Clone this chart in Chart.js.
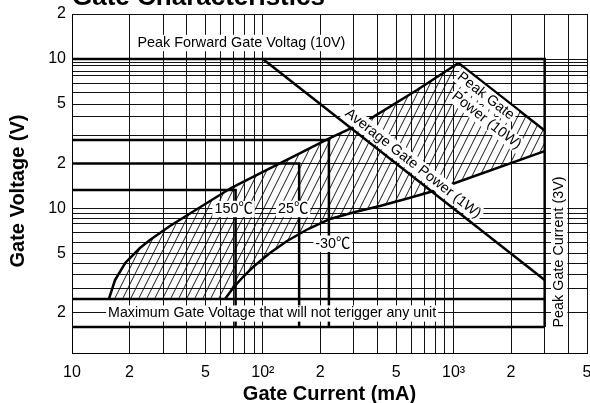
<!DOCTYPE html>
<html>
<head>
<meta charset="utf-8">
<style>
  html, body { margin: 0; padding: 0; background: #fff; }
  canvas { display: block; }
</style>
<script src="https://cdn.jsdelivr.net/npm/chart.js@4.4.1/dist/chart.umd.min.js"></script>
</head>
<body>
<canvas id="c" width="590" height="403" style="width:590px;height:403px"></canvas>
<script>
// Gate characteristics: gate current in mA (x) against gate voltage in V (y), both logarithmic.
const xMin = 10, xMax = 5000;
const yMin = 0.108, yMax = 20;

// grid lines and the tick labels printed on them
const xGrid = [10, 20, 30, 40, 50, 60, 70, 80, 90, 100, 200, 300, 400, 500, 600, 700, 800, 900, 1000, 2000, 3000, 4000, 5000];
const xLabelValues = [10, 20, 50, 100, 200, 500, 1000, 2000, 5000];
const xLabelTexts = ['10', '2', '5', '10²', '2', '5', '10³', '2', '5'];
const yGrid = [20, 10, 9.5, 9, 8.3, 7.7, 6.9, 6, 5, 4.1, 3.1, 2, 1, 0.93, 0.86, 0.79, 0.69, 0.59, 0.5, 0.43, 0.36, 0.29, 0.2, 0.108];
const yLabelValues = [20, 10, 5, 2, 1, 0.5, 0.2];
const yLabelTexts = ['2', '10', '5', '2', '10', '5', '2'];

// ratings
const peakForwardVoltage = [[10, 10], [3000, 10], [3000, 0.161]];   // 10 V ceiling, 3 A side
const averagePower = [[100, 10], [3000, 0.333]];                      // 1 W
const peakPower = [[1060, 9.4], [3000, 3.33]];                        // 10 W
const noTriggerTop = [[10, 0.248], [3000, 0.248]];
const noTriggerBottom = [[10, 0.161], [3000, 0.161]];

// minimum trigger current / voltage per junction temperature
const trigger150 = [[10, 1.33], [72, 1.33], [72, 0.161]];
const trigger25 = [[10, 2], [155, 2], [155, 0.161]];
const triggerMinus30 = [[10, 2.87], [222, 2.87], [222, 0.161]];

// boundaries of the preferred gate drive area
const upperCurve = [[15.6, 0.248], [16.8, 0.332], [19, 0.432], [22.7, 0.544], [25.6, 0.616], [32.6, 0.764],
  [46.9, 1.02], [68.1, 1.37], [105, 1.81], [157, 2.35], [220, 2.92], [293, 3.46], [378, 4.09], [643, 6.2],
  [1060, 9.4]];
const lowerCurve = [[63.4, 0.248], [69.8, 0.294], [78.7, 0.348], [88.9, 0.406], [109, 0.504], [134, 0.606],
  [172.6, 0.729], [225, 0.851], [304, 0.948], [411, 1.04], [591, 1.18], [819, 1.33], [1017, 1.48], [3000, 2.42]];

const FONT = '"Liberation Sans", Arial, "Noto Sans CJK JP", sans-serif';
const LABEL_SIZE = 14.4;

const pts = arr => arr.map(([x, y]) => ({ x, y }));

function hatch() {
  const c = document.createElement('canvas');
  c.width = 8; c.height = 16;
  const g = c.getContext('2d');
  g.strokeStyle = '#000';
  g.lineWidth = 0.9;
  g.beginPath();
  for (const dx of [-8, 0, 8]) { g.moveTo(dx, 16); g.lineTo(dx + 8, 0); }
  g.stroke();
  return g.createPattern(c, 'repeat');
}

const area = pts(upperCurve).concat(pts(lowerCurve).reverse());
area.splice(upperCurve.length, 0, { x: 3000, y: 3.33 });

const thick = (data) => ({ data: pts(data), borderColor: '#000', borderWidth: 2.5, pointRadius: 0, fill: false, order: 0 });

const datasets = [
  { data: area, borderWidth: 0, borderColor: 'rgba(0,0,0,0)', pointRadius: 0, fill: 'shape', backgroundColor: hatch(), order: 5 },
  thick(peakForwardVoltage),
  thick(averagePower),
  thick(peakPower),
  thick(noTriggerTop),
  thick(noTriggerBottom),
  thick(trigger150),
  thick(trigger25),
  thick(triggerMinus30),
  thick(upperCurve),
  thick(lowerCurve)
];

function labelFor(v, values, texts) {
  const i = values.findIndex(t => Math.abs(t - v) < 1e-9);
  return i < 0 ? '' : texts[i];
}

function boxedText(ctx, text, x, y, angle, size, align) {
  ctx.save();
  ctx.font = size + 'px ' + FONT;
  const w = ctx.measureText(text).width;
  const cx = align === 'left' ? x + w / 2 : x;
  ctx.translate(cx, y);
  ctx.rotate(angle);
  ctx.fillStyle = '#fff';
  ctx.fillRect(-w / 2 - 2, -size / 2 - 1, w + 4, size + 2);
  ctx.fillStyle = '#000';
  ctx.textAlign = 'center';
  ctx.textBaseline = 'middle';
  ctx.fillText(text, 0, 0);
  ctx.restore();
}

// point at fraction t of p0 -> p1, moved off px along the normal that points up and to the right
function along(p0, p1, t, off) {
  const dx = p1.x - p0.x, dy = p1.y - p0.y, L = Math.hypot(dx, dy);
  return { x: p0.x + dx * t + off * dy / L, y: p0.y + dy * t - off * dx / L, a: Math.atan2(dy, dx) };
}

const decor = {
  id: 'decor',
  afterDatasetsDraw(chart) {
    const ctx = chart.ctx;
    const X = v => chart.scales.x.getPixelForValue(v);
    const Y = v => chart.scales.y.getPixelForValue(v);
    const P = ([x, y]) => ({ x: X(x), y: Y(y) });
    const s = LABEL_SIZE;

    boxedText(ctx, 'Peak Forward Gate Voltag (10V)', X(20) + 8, Y(10) - 16, 0, s, 'left');
    boxedText(ctx, 'Maximum Gate Voltage that will not terigger any unit', X(15) + 2.5, Y(0.2) + 0.5, 0, 14.2, 'left');

    boxedText(ctx, '150℃', X(72) - 2, Y(1) + 0.5, 0, s);
    boxedText(ctx, '25℃', X(155) - 6, Y(1) + 0.5, 0, s);
    boxedText(ctx, '-30℃', X(222) + 4, Y(0.59) + 1, 0, s);

    const avg = along(P(averagePower[0]), P(averagePower[1]), 0.51, 10.4);
    boxedText(ctx, 'Average Gate Power (1W)', avg.x, avg.y, avg.a, s);

    const pk1 = along(P(peakPower[0]), P(peakPower[1]), 0.383, -9.3);
    boxedText(ctx, 'Peak Gate', pk1.x, pk1.y, pk1.a, s);
    const pk2 = along(P(peakPower[0]), P(peakPower[1]), 0.525, -28);
    boxedText(ctx, 'Power (10W)', pk2.x, pk2.y, pk2.a, s);

    boxedText(ctx, 'Peak Gate Current (3V)', X(3000) + 14.5, Y(0.5) - 1.5, -Math.PI / 2, s);
  },
  afterDraw(chart) {
    const ctx = chart.ctx;
    const a = chart.chartArea;
    ctx.save();
    ctx.fillStyle = '#000';
    ctx.textBaseline = 'alphabetic';
    ctx.font = 'bold 26px ' + FONT;
    ctx.textAlign = 'left';
    ctx.fillText('Gate Characteristics', a.left, 5);

    ctx.font = 'bold 20px ' + FONT;
    ctx.textAlign = 'center';
    ctx.fillText('Gate Current (mA)', (a.left + a.right) / 2, 400);

    ctx.translate(24, 191);
    ctx.rotate(-Math.PI / 2);
    ctx.fillText('Gate Voltage (V)', 0, 0);
    ctx.restore();
  }
};

const axisCommon = {
  type: 'logarithmic',
  grid: { color: '#111', lineWidth: 1, drawTicks: false },
  border: { display: true, color: '#000', width: 1 }
};

new Chart(document.getElementById('c').getContext('2d'), {
  type: 'line',
  data: { datasets },
  options: {
    responsive: false,
    animation: false,
    devicePixelRatio: 1,
    layout: { padding: { left: 0, right: 3, top: 14, bottom: 0 }, autoPadding: false },
    plugins: { legend: { display: false }, tooltip: { enabled: false }, title: { display: false } },
    elements: { line: { tension: 0 }, point: { radius: 0 } },
    scales: {
      x: Object.assign({}, axisCommon, {
        position: 'bottom', min: xMin, max: xMax,
        afterFit: s => { s.height = 50; s.paddingLeft = 0; s.paddingRight = 0; },
        afterBuildTicks: s => { s.ticks = xGrid.map(v => ({ value: v })); },
        ticks: {
          autoSkip: false, maxRotation: 0, minRotation: 0, padding: 10, color: '#000',
          font: { family: FONT, size: 16 },
          callback: v => labelFor(v, xLabelValues, xLabelTexts)
        }
      }),
      y: Object.assign({}, axisCommon, {
        position: 'left', min: yMin, max: yMax,
        afterFit: s => { s.width = 72; s.paddingTop = 0; s.paddingBottom = 0; },
        afterBuildTicks: s => { s.ticks = yGrid.map(v => ({ value: v })); },
        ticks: {
          autoSkip: false, padding: 6, color: '#000',
          font: { family: FONT, size: 16 },
          callback: v => labelFor(v, yLabelValues, yLabelTexts)
        }
      })
    }
  },
  plugins: [decor]
});
</script>
</body>
</html>
